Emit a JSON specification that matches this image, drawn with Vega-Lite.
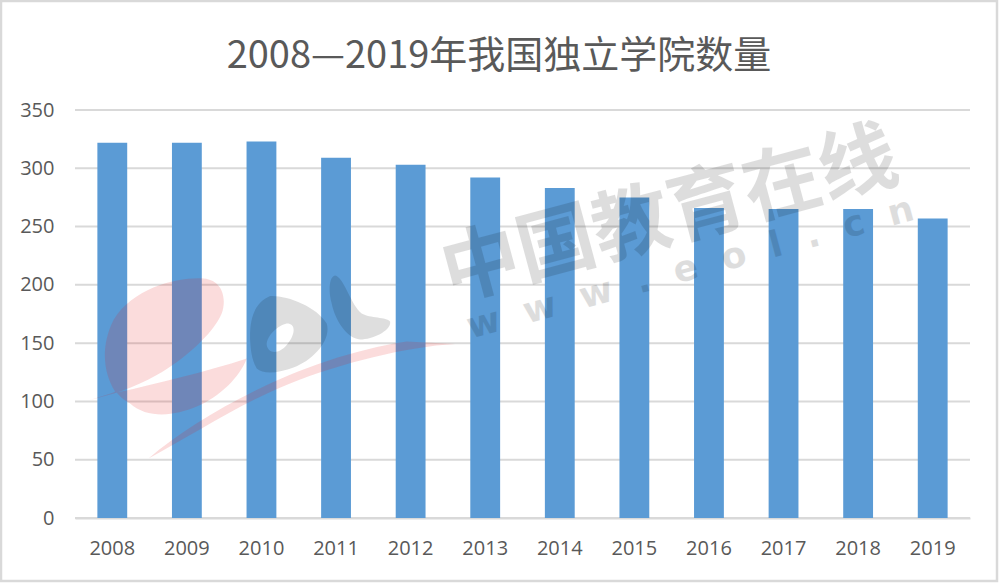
{
  "$schema": "https://vega.github.io/schema/vega-lite/v6.json",
  "autosize": {"type": "none"},
  "padding": {"left": 1, "top": 1, "right": 3, "bottom": 2},
  "width": 996,
  "height": 580,
  "background": "white",
  "config": {"view": {"stroke": "#d9d9d9", "strokeWidth": 2.5}},
  "title": {
    "text": "2008—2019年我国独立学院数量",
    "font": "Noto Sans CJK SC",
    "fontSize": 38,
    "fontWeight": "normal",
    "color": "#595959",
    "anchor": "middle",
    "frame": "group",
    "offset": -75
  },
  "datasets": {
    "counts": [
      {"year": "2008", "count": 322},
      {"year": "2009", "count": 322},
      {"year": "2010", "count": 323},
      {"year": "2011", "count": 309},
      {"year": "2012", "count": 303},
      {"year": "2013", "count": 292},
      {"year": "2014", "count": 283},
      {"year": "2015", "count": 275},
      {"year": "2016", "count": 266},
      {"year": "2017", "count": 265},
      {"year": "2018", "count": 265},
      {"year": "2019", "count": 257}
    ],
    "grid": [
      {"tick": 0, "from": 2007.5, "to": 2019.5},
      {"tick": 50, "from": 2007.5, "to": 2019.5},
      {"tick": 100, "from": 2007.5, "to": 2019.5},
      {"tick": 150, "from": 2007.5, "to": 2019.5},
      {"tick": 200, "from": 2007.5, "to": 2019.5},
      {"tick": 250, "from": 2007.5, "to": 2019.5},
      {"tick": 300, "from": 2007.5, "to": 2019.5},
      {"tick": 350, "from": 2007.5, "to": 2019.5}
    ]
  },
  "layer": [
    {
      "data": {"name": "grid"},
      "mark": {"type": "rule", "color": "#d9d9d9", "strokeWidth": 2},
      "encoding": {
        "x": {"field": "from", "type": "quantitative", "axis": null, "scale": {"domain": [2007.5, 2019.5], "range": [74, 969]}},
        "x2": {"field": "to"},
        "y": {
          "field": "tick",
          "type": "quantitative",
          "scale": {"domain": [0, 350], "range": [517, 109]},
          "axis": {
            "title": null,
            "offset": -74,
            "values": [0, 50, 100, 150, 200, 250, 300, 350],
            "grid": false,
            "domain": false,
            "ticks": false,
            "labelFont": "Open Sans",
            "labelFontSize": 20,
            "labelColor": "#595959",
            "labelPadding": 21
          }
        }
      }
    },
    {
      "data": {"name": "counts"},
      "mark": {"type": "bar", "color": "#5b9bd5"},
      "encoding": {
        "x": {
          "field": "year",
          "type": "nominal",
          "scale": {"range": [74, 969], "paddingInner": 0.6, "paddingOuter": 0.3},
          "axis": {
            "title": null,
            "offset": -63,
            "labelAngle": 0,
            "labelFont": "Open Sans",
            "labelFontSize": 20,
            "labelColor": "#595959",
            "labelPadding": 20,
            "ticks": false,
            "domainColor": "#d9d9d9",
            "domainWidth": 2
          }
        },
        "y": {"field": "count", "type": "quantitative"}
      }
    },
    {
      "data": {"values": [{"year": 2010.25, "count": 131.25}]},
      "mark": {
        "type": "point",
        "filled": true,
        "size": 160000,
        "color": "#e41614",
        "opacity": 0.15,
        "shape": "M-.95 .175C-.9 .158 -.833 .142 -.825 .133C-.883 .042 -.9 -.092 -.833 -.225C-.733 -.392 -.5 -.442 -.383 -.433C-.283 -.425 -.267 -.325 -.292 -.258C-.333 -.158 -.483 -.025 -.617 .05C-.733 .117 -.85 .15 -.95 .175ZM-.817 .138C-.617 .092 -.367 .033 -.167 -.033C-.2 .058 -.3 .158 -.417 .208C-.533 .258 -.667 .267 -.75 .192C-.783 .175 -.8 .158 -.817 .138ZM-.658 .467C-.367 .225 .133 -.042 .633 -.117L.875 -.105C.633 -.092 .3 -.008 .05 .092C-.2 .192 -.45 .358 -.658 .467Z"
      },
      "encoding": {
        "x": {"field": "year", "type": "quantitative", "axis": null, "scale": {"domain": [2007.5, 2019.5], "range": [74, 969]}},
        "y": {"field": "count", "type": "quantitative"}
      }
    },
    {
      "data": {"values": [{"year": 2010.25, "count": 131.25}]},
      "mark": {
        "type": "point",
        "filled": true,
        "size": 160000,
        "color": "#000000",
        "opacity": 0.13,
        "shape": "M-.15 -.125C-.153 -.225 -.133 -.308 -.05 -.345C.033 -.35 .183 -.292 .233 -.208C.258 -.125 .167 -.025 .067 .012C0 .038 -.083 .05 -.117 .017C-.142 -.025 -.147 -.075 -.15 -.125ZM-.067 -.1C-.058 -.05 0 -.058 .033 -.1C.075 -.15 .083 -.208 .033 -.208C-.008 -.2 -.067 -.15 -.067 -.1ZM.275 -.447C.242 -.442 .242 -.358 .258 -.308C.275 -.225 .333 -.133 .4 -.128C.467 -.128 .558 -.175 .55 -.217C.533 -.242 .45 -.233 .408 -.258C.358 -.292 .317 -.442 .275 -.447Z"
      },
      "encoding": {
        "x": {"field": "year", "type": "quantitative", "axis": null, "scale": {"domain": [2007.5, 2019.5], "range": [74, 969]}},
        "y": {"field": "count", "type": "quantitative"}
      }
    },
    {
      "data": {"values": [{"year": 2015.48, "count": 258, "label": "中国教育在线"}]},
      "mark": {
        "type": "text",
        "font": "Noto Sans CJK SC",
        "fontWeight": "bold",
        "fontSize": 78,
        "angle": 345,
        "color": "#000000",
        "opacity": 0.13,
        "align": "center",
        "baseline": "middle"
      },
      "encoding": {
        "x": {"field": "year", "type": "quantitative", "axis": null, "scale": {"domain": [2007.5, 2019.5], "range": [74, 969]}},
        "y": {"field": "count", "type": "quantitative"},
        "text": {"field": "label"}
      }
    },
    {
      "data": {"values": [{"year": 2015.75, "count": 214, "label": "w\u00a0\u00a0w\u00a0\u00a0w\u00a0\u00a0.\u00a0\u00a0e\u00a0\u00a0o\u00a0\u00a0l\u00a0\u00a0.\u00a0\u00a0c\u00a0\u00a0n"}]},
      "mark": {
        "type": "text",
        "font": "DejaVu Sans",
        "fontWeight": "bold",
        "fontSize": 36,
        "angle": 345,
        "color": "#000000",
        "opacity": 0.13,
        "align": "center",
        "baseline": "middle"
      },
      "encoding": {
        "x": {"field": "year", "type": "quantitative", "axis": null, "scale": {"domain": [2007.5, 2019.5], "range": [74, 969]}},
        "y": {"field": "count", "type": "quantitative"},
        "text": {"field": "label"}
      }
    }
  ],
  "resolve": {"scale": {"x": "independent"}}
}
